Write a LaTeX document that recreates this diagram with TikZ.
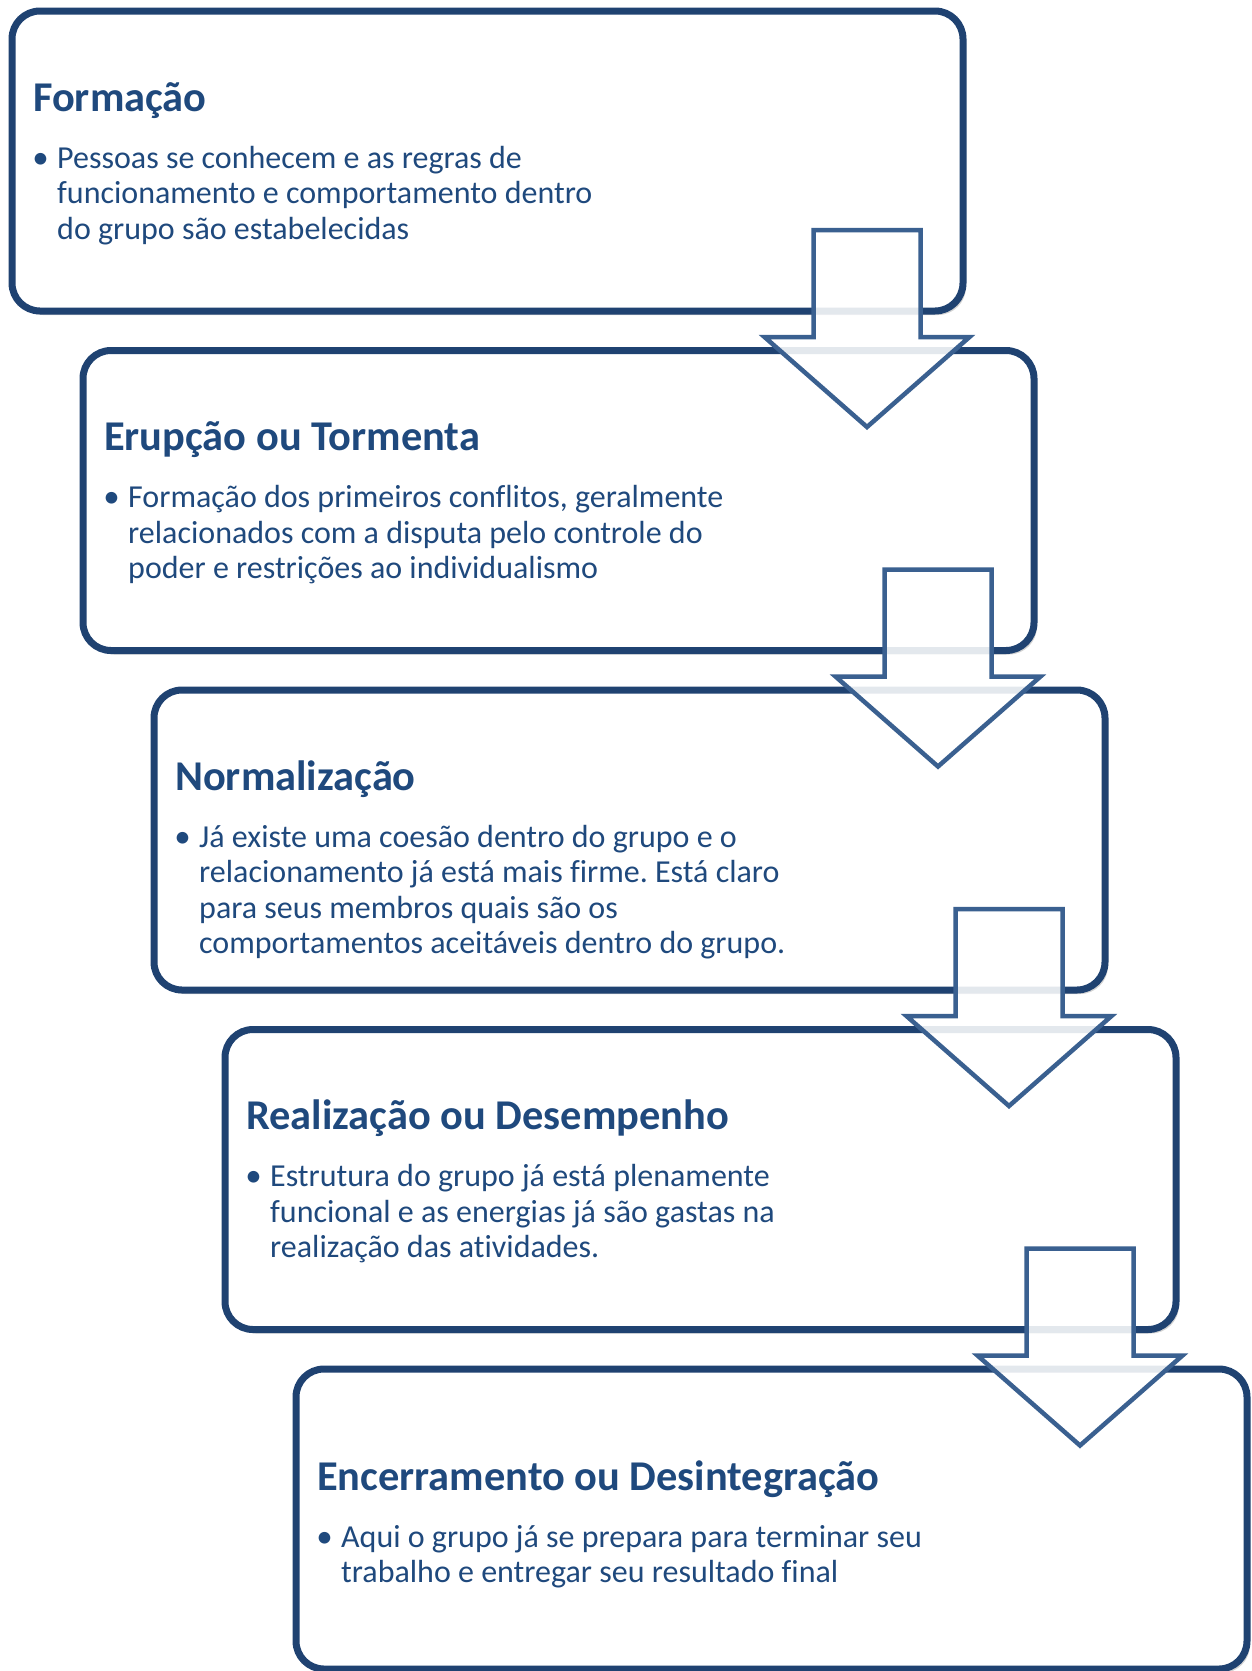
\documentclass[tikz,border=0pt]{standalone}
\usepackage{fontspec}
\setmainfont{Carlito}[Ligatures=CommonOff]
\usepackage{tikz}
\usetikzlibrary{positioning,shadows,calc}

\definecolor{stageline}{HTML}{1F4271}
\definecolor{stagetext}{HTML}{1F497D}
\definecolor{arrowline}{HTML}{3A6090}

\frenchspacing
\begin{document}
\begin{tikzpicture}[
    x=1pt, y=1pt,
    stage/.style={rectangle, draw=stageline, line width=7pt, rounded corners=28pt, minimum width=951pt, minimum height=300pt, fill=white, inner sep=0pt, outer sep=0pt, drop shadow={shadow xshift=3pt, shadow yshift=-4pt, opacity=0.35, fill=black!50}},
    title/.style={anchor=base west, inner sep=0pt, text=stagetext, font=\fontsize{42.4}{48}\selectfont\bfseries},
    body/.style={anchor=base west, inner sep=0pt, text=stagetext, font=\fontsize{32}{35.5}\selectfont},
    dot/.style={inner sep=0pt, text=stagetext, font=\fontsize{33}{35.5}\selectfont},
    flowarrow/.style={draw=arrowline, line width=4.5pt, fill=white, fill opacity=0.88, miter limit=4},
    stagearrow/.pic={\draw[flowarrow] (-53.5,0) -- (53.5,0) -- (53.5,-107) -- (102.5,-107) -- (0,-197) -- (-102.5,-107) -- (-53.5,-107) -- cycle;},
  ]
    \useasboundingbox (0,0) rectangle (1252,-1671);

    % Stages
    \node[stage, anchor=north west] (b1) at (12,-11) {};
    \node[stage, below=39.5pt of b1.south west, anchor=north west, xshift=71pt] (b2) {};
    \node[stage, below=39.5pt of b2.south west, anchor=north west, xshift=71pt] (b3) {};
    \node[stage, below=39.5pt of b3.south west, anchor=north west, xshift=71pt] (b4) {};
    \node[stage, below=39.5pt of b4.south west, anchor=north west, xshift=71pt] (b5) {};

    % Formação
    \node[title] (t1) at ([shift={(21,-100)}]b1.north west) {Formação};
    \node[body] (d1) at ([shift={(45,-157)}]b1.north west) {\begin{tabular}[t]{@{}l@{}}Pessoas se conhecem e as regras de\\funcionamento e comportamento dentro\\do grupo são estabelecidas\end{tabular}};
    \node[dot, base left=8pt of d1] (p1) {\textbullet};

    % Erupção ou Tormenta
    \node[title] (t2) at ([shift={(21,-100)}]b2.north west) {Erupção ou Tormenta};
    \node[body] (d2) at ([shift={(45,-157)}]b2.north west) {\begin{tabular}[t]{@{}l@{}}Formação dos primeiros conflitos, geralmente\\relacionados com a disputa pelo controle do\\poder e restrições ao individualismo\end{tabular}};
    \node[dot, base left=8pt of d2] (p2) {\textbullet};

    % Normalização
    \node[title] (t3) at ([shift={(21,-100)}]b3.north west) {Normalização};
    \node[body] (d3) at ([shift={(45,-157)}]b3.north west) {\begin{tabular}[t]{@{}l@{}}Já existe uma coesão dentro do grupo e o\\relacionamento já está mais firme. Está claro\\para seus membros quais são os\\comportamentos aceitáveis dentro do grupo.\end{tabular}};
    \node[dot, base left=8pt of d3] (p3) {\textbullet};

    % Realização ou Desempenho
    \node[title] (t4) at ([shift={(21,-100)}]b4.north west) {Realização ou Desempenho};
    \node[body] (d4) at ([shift={(45,-157)}]b4.north west) {\begin{tabular}[t]{@{}l@{}}Estrutura do grupo já está plenamente\\funcional e as energias já são gastas na\\realização das atividades.\end{tabular}};
    \node[dot, base left=8pt of d4] (p4) {\textbullet};

    % Encerramento ou Desintegração (set lower in its box)
    \node[title] (t5) at ([shift={(21,-121)}]b5.north west) {Encerramento ou Desintegração};
    \node[body] (d5) at ([shift={(45,-178)}]b5.north west) {\begin{tabular}[t]{@{}l@{}}Aqui o grupo já se prepara para terminar seu\\trabalho e entregar seu resultado final\end{tabular}};
    \node[dot, base left=8pt of d5] (p5) {\textbullet};

    % Arrows
    \foreach \i in {1,...,4}
      \pic at ([shift={(-96,81)}]b\i.south east) {stagearrow};
  \end{tikzpicture}
\end{document}
